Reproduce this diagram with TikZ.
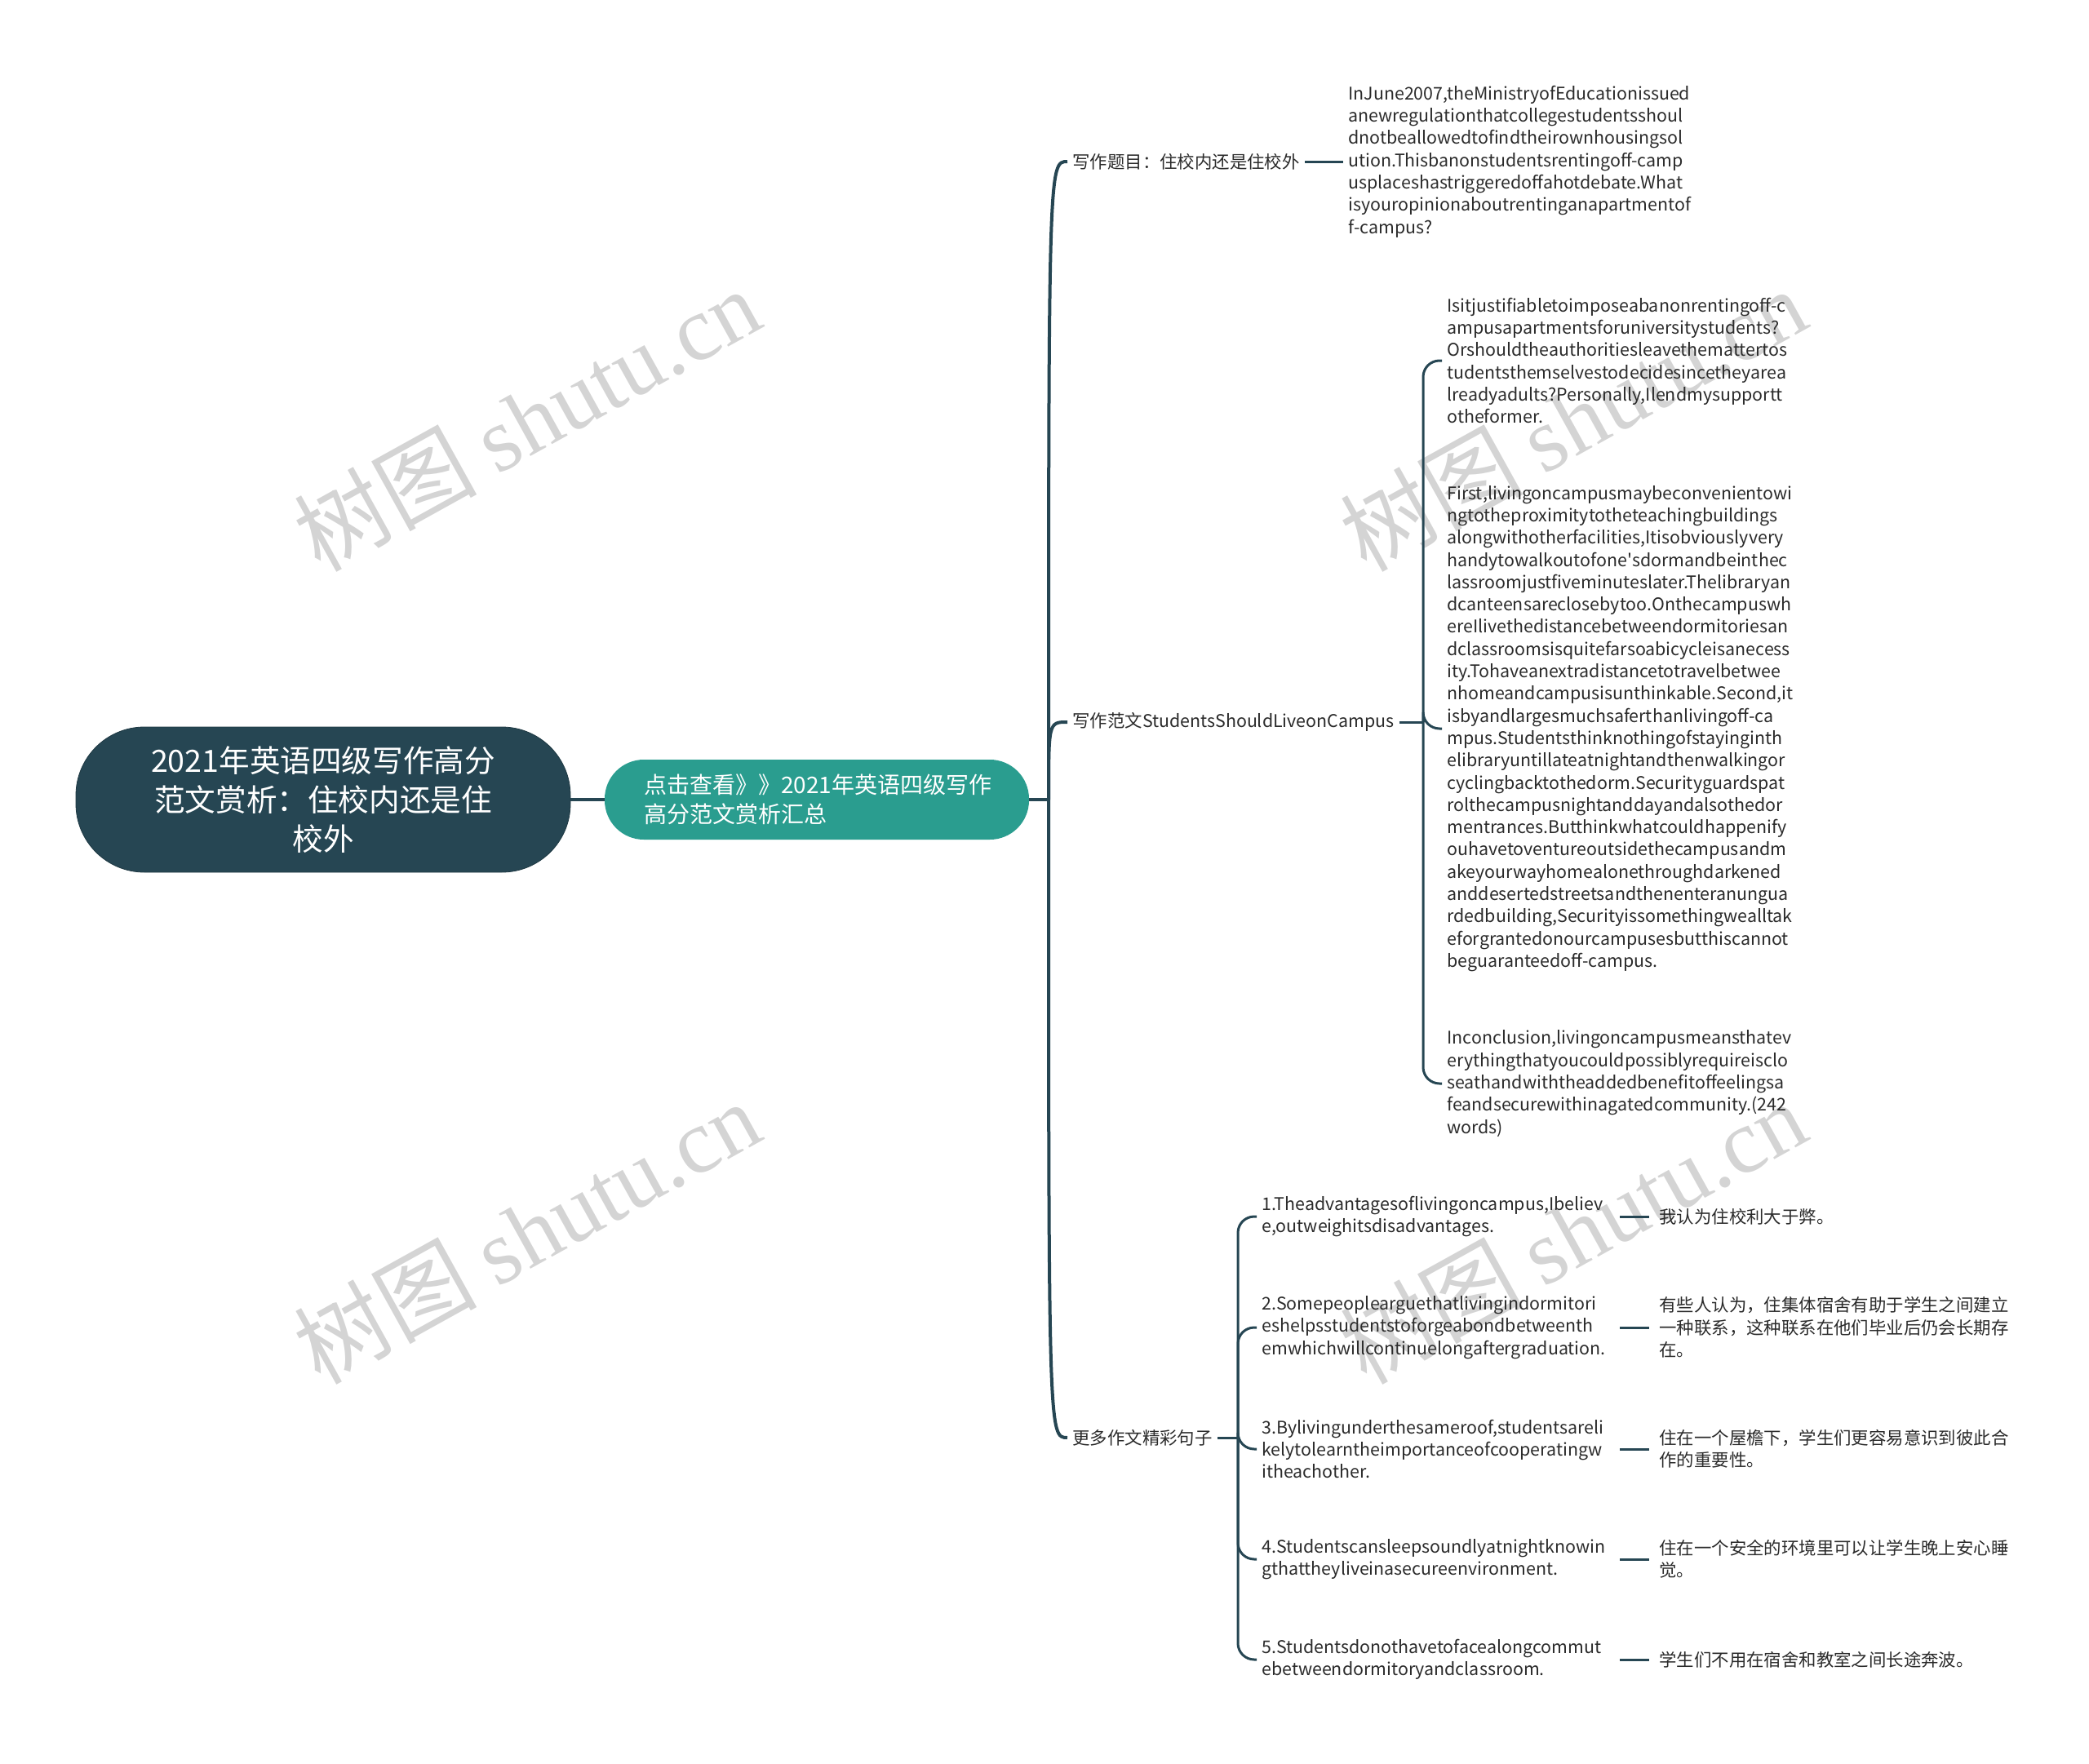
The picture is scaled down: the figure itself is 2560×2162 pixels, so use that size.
\documentclass[tikz,border=0pt]{standalone}
\usepackage{fontspec}
\setmainfont{Noto Sans CJK SC}
\newfontfamily\wmfont{Liberation Serif}
\definecolor{rootcol}{HTML}{264653}
\definecolor{hubcol}{HTML}{2A9D8F}
\definecolor{linecol}{HTML}{264653}
\definecolor{inkcol}{HTML}{2B2B2B}

\begin{document}
\begin{tikzpicture}[x=0.5pt,y=-0.5pt,
  rootbox/.style={fill=rootcol,draw=rootcol!80!black,rounded corners=42pt,minimum width=303pt,minimum height=89pt,text width=215pt,align=center,text=white,font=\fontsize{18.8}{24}\selectfont},
  hubbox/.style={fill=hubcol,rounded corners=24pt,minimum height=49pt,text width=212pt,inner xsep=24pt,align=left,text=white,font=\fontsize{14}{18}\selectfont},
  branchlabel/.style={anchor=west,inner sep=3pt,text=inkcol,font=\fontsize{10.7}{13.65}\selectfont},
  leaftext/.style={anchor=west,inner sep=3pt,text width=213pt,align=left,text=inkcol,font=\fontsize{10.7}{13.65}\selectfont},
  trunk/.style={draw=linecol,line width=2pt},
  twig/.style={draw=linecol,line width=1.5pt},
  pairline/.style={twig,shorten <=3pt,shorten >=3pt},
  watermark/.style={rotate=29,text=black!17,font=\fontsize{56}{56}\selectfont}]
\useasboundingbox (0,0) rectangle (2560,2162);

% watermarks
\node[watermark] (wm1) at (645,514) {树图 {\wmfont shutu.cn}};
\node[watermark] (wm2) at (645,1510) {树图 {\wmfont shutu.cn}};
\node[watermark] (wm3) at (1927,514) {树图 {\wmfont shutu.cn}};
\node[watermark] (wm4) at (1927,1510) {树图 {\wmfont shutu.cn}};

% centre
\node[rootbox] (root) at (396,980) {2021年英语四级写作高分\\范文赏析：住校内还是住\\校外};
\node[hubbox] (hub) at (1001,980) {点击查看》》2021年英语四级写作\\高分范文赏析汇总};
\draw[trunk] (root.east) -- (hub.west);

% branches
\node[branchlabel] (topic) at (1308,198) {写作题目：住校内还是住校外};
\node[branchlabel] (essay) at (1308,885) {写作范文StudentsShouldLiveonCampus};
\node[branchlabel] (more) at (1308,1762) {更多作文精彩句子};

\coordinate (hubfork) at (1285,980);
\draw[trunk] (hub.east) -- (hubfork);
\foreach \b in {topic,essay,more}
  \draw[trunk] (hubfork) .. controls (hubfork |- \b.west) .. (\b.west);

% topic
\node[leaftext] (topictext) at (1646,198) {InJune2007,theMinistryofEducationissued\\anewregulationthatcollegestudentsshoul\\dnotbeallowedtofindtheirownhousingsol\\ution.Thisbanonstudentsrentingoff-camp\\usplaceshastriggeredoffahotdebate.What\\isyouropinionaboutrentinganapartmentof\\f-campus?};
\draw[twig] (topic.east) -- (topictext.west);

% essay
\node[leaftext] (para1) at (1767,442) {Isitjustifiabletoimposeabanonrentingoff-c\\ampusapartmentsforuniversitystudents?\\Orshouldtheauthoritiesleavethemattertos\\tudentsthemselvestodecidesincetheyarea\\lreadyadults?Personally,Ilendmysupportt\\otheformer.};
\node[leaftext] (para2) at (1767,893) {First,livingoncampusmaybeconvenientowi\\ngtotheproximitytotheteachingbuildings\\alongwithotherfacilities,Itisobviouslyvery\\handytowalkoutofone\textquotesingle sdormandbeinthec\\lassroomjustfiveminuteslater.Thelibraryan\\dcanteensareclosebytoo.Onthecampuswh\\ereIlivethedistancebetweendormitoriesan\\dclassroomsisquitefarsoabicycleisanecess\\ity.Tohaveanextradistancetotravelbetwee\\nhomeandcampusisunthinkable.Second,it\\isbyandlargesmuchsaferthanlivingoff-ca\\mpus.Studentsthinknothingofstayinginth\\elibraryuntillateatnightandthenwalkingor\\cyclingbacktothedorm.Securityguardspat\\rolthecampusnightanddayandalsothedor\\mentrances.Butthinkwhatcouldhappenify\\ouhavetoventureoutsidethecampusandm\\akeyourwayhomealonethroughdarkened\\anddesertedstreetsandthenenteranungua\\rdedbuilding,Securityissomethingwealltak\\eforgrantedonourcampusesbutthiscannot\\beguaranteedoff-campus.};
\node[leaftext] (para3) at (1767,1328) {Inconclusion,livingoncampusmeansthatev\\erythingthatyoucouldpossiblyrequireisclo\\seathandwiththeaddedbenefitoffeelingsa\\feandsecurewithinagatedcommunity.(242\\words)};
\coordinate (essayfork) at (1744,885);
\draw[twig] (essay.east) -- (essayfork);
\foreach \p in {para1,para2,para3}
  \draw[twig,rounded corners=10pt] (essayfork) |- (\p.west);

% sentences
\node[leaftext] (sent1) at (1540,1491) {1.Theadvantagesoflivingoncampus,Ibeliev\\e,outweighitsdisadvantages.};
\node[leaftext] (sent2) at (1540,1627) {2.Somepeoplearguethatlivingindormitori\\eshelpsstudentstoforgeabondbetweenth\\emwhichwillcontinuelongaftergraduation.};
\node[leaftext] (sent3) at (1540,1776) {3.Bylivingunderthesameroof,studentsareli\\kelytolearntheimportanceofcooperatingw\\itheachother.};
\node[leaftext] (sent4) at (1540,1911) {4.Studentscansleepsoundlyatnightknowin\\gthattheyliveinasecureenvironment.};
\node[leaftext] (sent5) at (1540,2034) {5.Studentsdonothavetofacealongcommut\\ebetweendormitoryandclassroom.};

\node[leaftext] (trans1) at (2027,1491) {我认为住校利大于弊。};
\node[leaftext] (trans2) at (2027,1627) {有些人认为，住集体宿舍有助于学生之间建立\\一种联系，这种联系在他们毕业后仍会长期存\\在。};
\node[leaftext] (trans3) at (2027,1776) {住在一个屋檐下，学生们更容易意识到彼此合\\作的重要性。};
\node[leaftext] (trans4) at (2027,1911) {住在一个安全的环境里可以让学生晚上安心睡\\觉。};
\node[leaftext] (trans5) at (2027,2034) {学生们不用在宿舍和教室之间长途奔波。};

\coordinate (morefork) at (1517,1762);
\draw[twig] (more.east) -- (morefork);
\foreach \s in {1,...,5}{
  \draw[twig,rounded corners=10pt] (morefork) |- (sent\s.west);
  \draw[pairline] (sent\s.east) -- (trans\s.west);
}
\end{tikzpicture}
\end{document}
